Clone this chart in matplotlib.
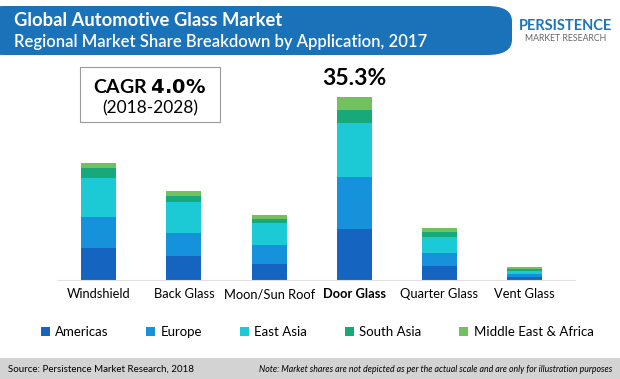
import numpy as np
import matplotlib.pyplot as plt
from matplotlib.patches import FancyBboxPatch, Rectangle

plt.rcParams['font.family'] = ['Lato', 'DejaVu Sans']

# share of market (%) by application, stacked by region
categories = ["Windshield", "Back Glass", "Moon/Sun Roof", "Door Glass", "Quarter Glass", "Vent Glass"]
regions = ["Americas", "Europe", "East Asia", "South Asia", "Middle East & Africa"]
americas = [6.24, 4.64, 3.09, 9.80, 2.71, 0.52]
europe = [5.99, 4.50, 3.67, 10.17, 2.45, 0.58]
east_asia = [7.42, 5.99, 4.19, 10.30, 3.21, 0.70]
south_asia = [1.93, 1.10, 0.77, 2.58, 0.97, 0.33]
mea = [1.08, 0.97, 0.77, 2.45, 0.66, 0.33]
colors = ["#1565c0", "#1592db", "#1ccad6", "#18a97a", "#72c15e"]

fig = plt.figure(figsize=(6.2, 3.79), dpi=100)
ax = fig.add_axes([57/620, 1-280/379, 518/620, 220/379])

x = np.arange(len(categories))
bottom = np.zeros(len(categories))
handles = []
for name, vals, c in zip(regions, [americas, europe, east_asia, south_asia, mea], colors):
    b = ax.bar(x, vals, 0.41, bottom=bottom, color=c, label=name)
    handles.append(b)
    bottom += np.array(vals)

ax.set_xlim(-0.49, 5.59)
ax.set_ylim(0, 42.5)
ax.set_yticks([])
ax.set_xticks(x)
ax.set_xticklabels(categories, fontsize=9.3)
ax.get_xticklabels()[3].set_fontweight('bold')
ax.tick_params(axis='x', length=0, pad=6)
for s in ['top', 'right', 'left']:
    ax.spines[s].set_visible(False)
ax.spines['bottom'].set_color('#e2e2e2')

ax.text(3, bottom[3] + 1.6, "35.3%", ha='center', va='bottom', fontsize=16.5, fontweight='bold')

# CAGR box
fig.patches.append(Rectangle((80/620, 1-122/379), 140/620, 55/379, transform=fig.transFigure,
                             facecolor='white', edgecolor='#9a9a9a', lw=0.8))
fig.text(150/620, 1-87/379, "CAGR $\\bf{4.0\\%}$", ha='center', va='center', fontsize=14, fontweight='bold')
fig.text(150/620, 1-108/379, "(2018-2028)", ha='center', va='center', fontsize=12.5)

# header banner
fig.patches.append(FancyBboxPatch((-20/620, 1-55/379), 532/620, 49/379, transform=fig.transFigure,
                                  boxstyle="round,pad=0,rounding_size=0.04", facecolor='#1a72b9',
                                  edgecolor='none'))
fig.text(14/620, 1-20/379, "Global Automotive Glass Market", color='white', fontsize=13.2,
         fontweight='bold', va='center')
fig.text(14/620, 1-42/379, "Regional Market Share Breakdown by Application, 2017", color='white',
         fontsize=12, fontweight='semibold', va='center')

# logo text
fig.text(566/620, 1-26/379, "PERSISTENCE", color='#1f73b7', fontsize=10.5, fontweight='bold',
         ha='center', va='center')
fig.text(566/620, 1-38.5/379, "MARKET RESEARCH", color='#666666', fontsize=6.3,
         ha='center', va='center')

# legend
fig.legend(handles=handles, labels=regions, loc='center', bbox_to_anchor=(317/620, 1-332/379), ncol=5,
           frameon=False, fontsize=9.5, handlelength=0.7, handleheight=0.7, handletextpad=0.4,
           columnspacing=2.85)

# footer
fig.patches.append(Rectangle((0, 0), 1, 21/379, transform=fig.transFigure, facecolor='#d3d3d3',
                             edgecolor='none'))
fig.text(8/620, 10/379, "Source: Persistence Market Research, 2018", fontsize=7, va='center')
fig.text(612/620, 10/379, "Note: Market shares are not depicted as per the actual scale and are only for illustration purposes",
         fontsize=6.3, style='italic', ha='right', va='center')

fig.savefig("out.png", dpi=100, facecolor='white')
